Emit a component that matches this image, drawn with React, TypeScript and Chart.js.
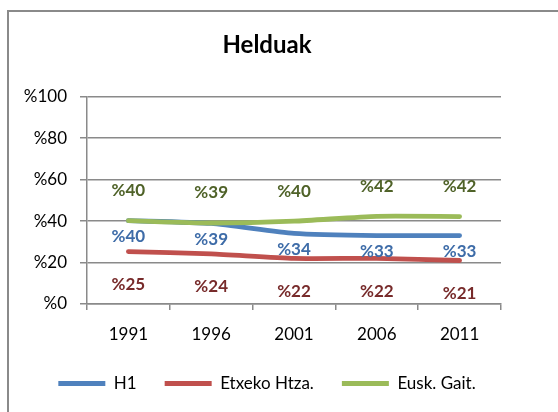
import React, { useEffect, useRef } from 'react';
import { Chart, registerables } from 'chart.js';

Chart.register(...registerables);

const chartTitle = 'Helduak';
const categories = ['1991', '1996', '2001', '2006', '2011'];
const seriesNames = ['H1', 'Etxeko Htza.', 'Eusk. Gait.'];
const h1Values = [40.2, 38.9, 34.1, 33.0, 33.0];
const etxekoValues = [25.3, 24.2, 22.0, 22.0, 21.0];
const euskValues = [40.2, 39.1, 40.0, 42.3, 42.2];
const yMin = 0;
const yMax = 100;
const yStep = 20;

const lineColors = ['#4F81BD', '#C0504D', '#9BBB59'];
const labelColors = ['#3E6CA8', '#772A2A', '#4F6228'];
const labelOffsets = [16, 33, -30];
const FONT = 'Lato';

const dataLabelPlugin = {
  id: 'dataLabels',
  afterDatasetsDraw(chart: any) {
    const ctx = chart.ctx;
    ctx.save();
    ctx.font = `bold 17px ${FONT}`;
    ctx.textAlign = 'center';
    ctx.textBaseline = 'middle';
    chart.data.datasets.forEach((ds: any, di: number) => {
      const meta = chart.getDatasetMeta(di);
      meta.data.forEach((el: any, i: number) => {
        const v = ds.data[i];
        ctx.fillStyle = labelColors[di];
        ctx.fillText('%' + Math.round(v), el.x, el.y + labelOffsets[di]);
      });
    });
    ctx.restore();
  },
};

export default function App() {
  const ref = useRef<HTMLCanvasElement | null>(null);
  useEffect(() => {
    let chart: any = null;
    let cancelled = false;
    const make = () => {
      if (cancelled || !ref.current) return;
      const allValues = [h1Values, etxekoValues, euskValues];
      const orders = [1, 2, 0];
      chart = new Chart(ref.current, {
        type: 'line',
        data: {
          labels: categories,
          datasets: allValues.map((vals, i) => ({
            label: seriesNames[i],
            data: vals,
            borderColor: lineColors[i],
            backgroundColor: lineColors[i],
            borderWidth: 4.8,
            borderCapStyle: 'round' as const,
            pointRadius: 0,
            pointHoverRadius: 0,
            pointStyle: 'line' as const,
            tension: 0.2,
            order: orders[i],
            yAxisID: 'y',
          })),
        },
        options: {
          responsive: false,
          animation: false,
          layout: { padding: { left: 0, right: 24, top: 0, bottom: 10 } },
          plugins: {
            title: {
              display: true,
              text: chartTitle,
              color: '#000',
              font: { family: FONT, size: 24, weight: 'bold' },
              padding: { top: 31, bottom: 37 },
            },
            legend: {
              position: 'bottom',
              labels: {
                usePointStyle: true,
                pointStyleWidth: 47,
                color: '#000',
                font: { family: FONT, size: 17 },
                padding: 28,
                sort: (a: any, b: any) => a.datasetIndex - b.datasetIndex,
              },
            },
            tooltip: { enabled: false },
          },
          scales: {
            x: {
              offset: true,
              afterFit: (s: any) => { s.height = 43; },
              grid: {
                offset: true,
                drawOnChartArea: false,
                drawTicks: true,
                tickLength: 6,
                color: '#8a8a8a',
                lineWidth: 1.5,
              },
              border: { display: true, color: '#8a8a8a', width: 1.5 },
              ticks: { color: '#000', font: { family: FONT, size: 17 }, padding: 14 },
            },
            y: {
              min: yMin,
              max: yMax,
              afterFit: (s: any) => { s.width = 87; },
              grid: { color: '#8a8a8a', lineWidth: 1.5, tickLength: 7 },
              border: { display: true, color: '#8a8a8a', width: 1.5 },
              ticks: {
                stepSize: yStep,
                color: '#000',
                font: { family: FONT, size: 17 },
                padding: 13,
                callback: (v: any) => '%' + v,
              },
            },
            ySpacer: {
              position: 'right',
              display: true,
              grid: { display: false, drawOnChartArea: false },
              border: { display: false },
              ticks: { display: false },
              afterFit: (s: any) => { s.width = 33; },
            },
          },
        },
        plugins: [dataLabelPlugin],
      });
    };
    const fonts: any = (document as any).fonts;
    if (fonts && fonts.load) {
      Promise.all([
        fonts.load(`17px ${FONT}`),
        fonts.load(`bold 17px ${FONT}`),
        fonts.load(`bold 24px ${FONT}`),
      ]).then(make, make);
    } else {
      make();
    }
    return () => {
      cancelled = true;
      if (chart) chart.destroy();
    };
  }, []);

  return (
    <div style={{ position: 'fixed', left: 0, top: 0, width: 558, height: 412, overflow: 'hidden', background: '#fff' }}>
      <div style={{ position: 'absolute', left: 7, top: 10, width: 700, height: 700, borderLeft: '2px solid #8a8a8a', borderTop: '2px solid #8a8a8a' }} />
      <canvas ref={ref} width={558} height={412} style={{ position: 'absolute', left: 0, top: 0, width: 558, height: 412 }} />
    </div>
  );
}
